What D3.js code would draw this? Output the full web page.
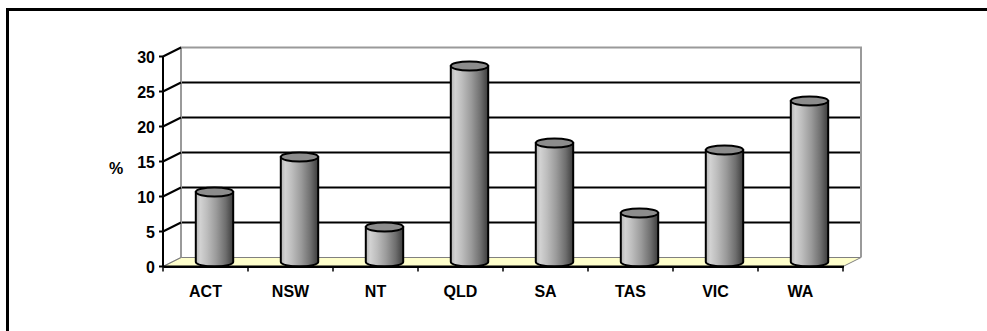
<!DOCTYPE html>
<html><head><meta charset="utf-8">
<script src="https://cdn.jsdelivr.net/npm/d3@7"></script>
<style>body{margin:0;background:#fff;}svg{display:block;}</style>
</head><body>
<script>
const categories = ["ACT","NSW","NT","QLD","SA","TAS","VIC","WA"];
const values = [10,15,5,28,17,7,16,23];
const yTicks = [0,5,10,15,20,25,30];
const yLabel = "%";

const W=987,H=331;
const svg=d3.select("body").append("svg").attr("width",W).attr("height",H);
const font="'Liberation Sans', Arial, sans-serif";

// outer frame
svg.append("path").attr("d",`M7.5,${H} V9.5 H${W}`).attr("fill","none").attr("stroke","#000").attr("stroke-width",3);

const x0=163,x1=843,dx=18,dy=-9;
const x=d3.scaleBand().domain(categories).range([x0,x1]);
const y=d3.scaleLinear().domain([0,30]).range([266.5,56.5]);

const defs=svg.append("defs");
const g=defs.append("linearGradient").attr("id","cyl").attr("x1","0").attr("x2","1").attr("y1","0").attr("y2","0");
[[0,"#b4b4b4"],[0.12,"#d2d2d2"],[0.3,"#bdbdbd"],[0.55,"#9a9a9a"],[0.8,"#6e6e6e"],[1,"#3c3c3c"]].forEach(([o,c])=>g.append("stop").attr("offset",o).attr("stop-color",c));

// floor
svg.append("path").attr("d",`M${x0},${y(0)} L${x0+dx},${y(0)+dy} L${x1+dx},${y(0)+dy} L${x1},${y(0)} Z`)
  .attr("fill","#ffffcc").attr("stroke","#808080").attr("stroke-width",1);

// back wall gridlines
yTicks.forEach(t=>{
  if(t===0||t===30) return;
  svg.append("line").attr("x1",x0+dx).attr("x2",x1+dx).attr("y1",y(t)+dy).attr("y2",y(t)+dy)
    .attr("stroke","#000").attr("stroke-width",2);
});
// back wall top and right edge (grey)
svg.append("path").attr("d",`M${x0+dx},${y(0)+dy} V${y(30)+dy} H${x1+dx} V${y(0)+dy}`)
  .attr("fill","none").attr("stroke","#9a9a9a").attr("stroke-width",2);
// left side wall diagonals at ticks
yTicks.forEach(t=>{
  svg.append("line").attr("x1",x0).attr("y1",y(t)).attr("x2",x0+dx).attr("y2",y(t)+dy)
    .attr("stroke",t===0?"#808080":"#000").attr("stroke-width",t===0?1:2);
});

// bars (cylinders)
const rx=x.bandwidth()*0.22, ry=4.5;
const bars=svg.append("g");
categories.forEach((c,i)=>{
  const cx=x(c)+x.bandwidth()/2+dx/2;
  const yb=y(0)+dy/2, yt=y(values[i])+dy/2;
  bars.append("path").attr("d",`M${cx-rx},${yt} L${cx-rx},${yb} A${rx},${ry} 0 0 0 ${cx+rx},${yb} L${cx+rx},${yt} Z`)
    .attr("fill","url(#cyl)").attr("stroke","#000").attr("stroke-width",2);
  bars.append("ellipse").attr("cx",cx).attr("cy",yt).attr("rx",rx).attr("ry",ry)
    .attr("fill","#8c8c8c").attr("stroke","#000").attr("stroke-width",2);
});

// front axes
const ax=svg.append("g").attr("transform",`translate(0,${y(0)})`)
  .call(d3.axisBottom(x).tickSize(5).tickSizeOuter(0).tickFormat(""));
ax.select(".domain").attr("stroke","#000").attr("stroke-width",2);
ax.selectAll(".tick").remove();
const tickX=d3.range(categories.length+1).map(i=>x0+i*x.step());
tickX.forEach(tx=>svg.append("line").attr("x1",tx).attr("x2",tx).attr("y1",y(0)).attr("y2",y(0)+5).attr("stroke","#000").attr("stroke-width",1.5));

svg.append("line").attr("x1",x0).attr("x2",x0).attr("y1",y(0)).attr("y2",y(30)).attr("stroke","#000").attr("stroke-width",2);
yTicks.forEach(t=>{
  svg.append("line").attr("x1",x0-4).attr("x2",x0).attr("y1",y(t)).attr("y2",y(t)).attr("stroke","#000").attr("stroke-width",2);
  svg.append("text").attr("x",x0-8).attr("y",y(t)+6).attr("text-anchor","end")
    .attr("font-family",font).attr("font-weight","bold").attr("font-size",16).text(t);
});
svg.append("line").attr("x1",x0).attr("x2",x1+1).attr("y1",y(0)).attr("y2",y(0)).attr("stroke","#000").attr("stroke-width",2);

categories.forEach(c=>{
  svg.append("text").attr("x",x(c)+x.bandwidth()/2).attr("y",297).attr("text-anchor","middle")
    .attr("font-family",font).attr("font-weight","bold").attr("font-size",16).text(c);
});
svg.append("text").attr("x",116).attr("y",174).attr("text-anchor","middle")
  .attr("font-family",font).attr("font-weight","bold").attr("font-size",16).text(yLabel);
</script>
</body></html>
